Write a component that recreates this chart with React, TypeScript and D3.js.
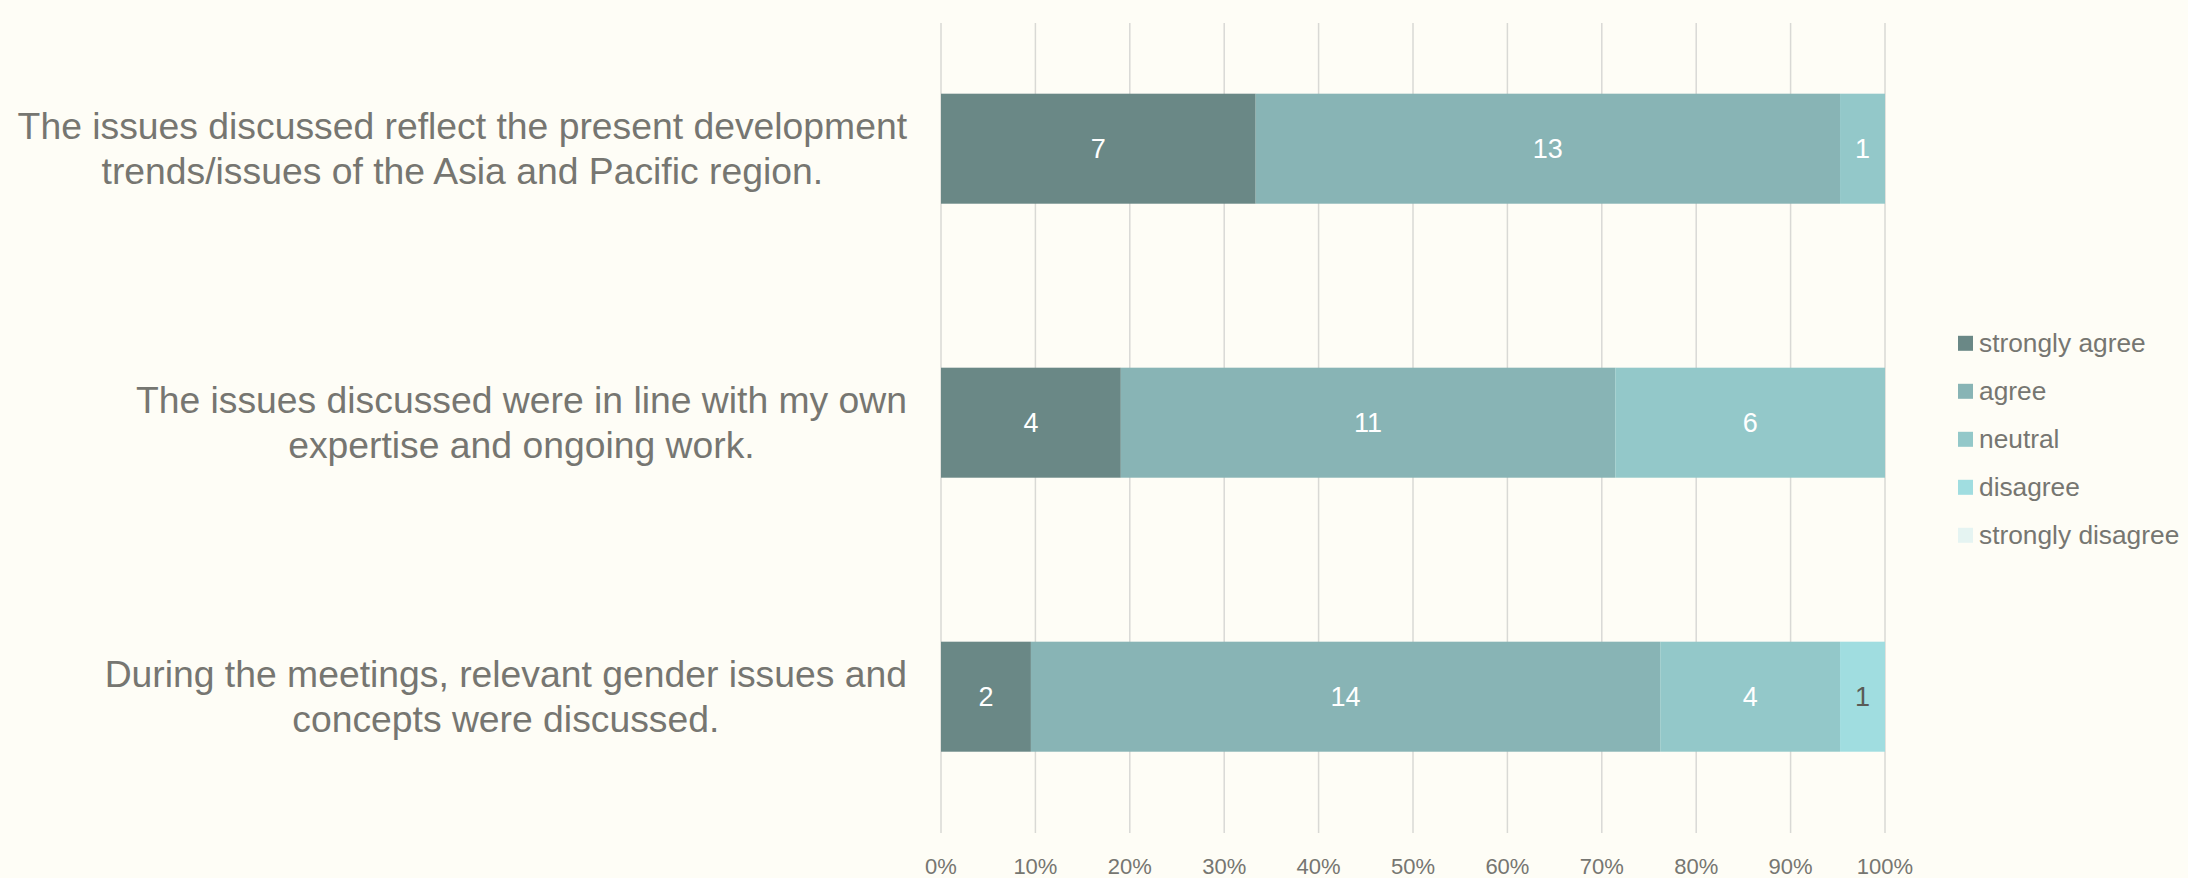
import React, { useEffect, useRef } from "react";
import * as d3 from "d3";

const categories = [
  "The issues discussed reflect the present development|trends/issues of the Asia and Pacific region.",
  "The issues discussed were in line with my own|expertise and ongoing work.",
  "During the meetings, relevant gender issues and|concepts were discussed.",
];
const seriesNames = ["strongly agree", "agree", "neutral", "disagree", "strongly disagree"];
const stronglyAgree = [7, 4, 2];
const agree = [13, 11, 14];
const neutral = [1, 6, 4];
const disagree = [0, 0, 1];
const stronglyDisagree = [0, 0, 0];
const seriesColors = ["#6a8886", "#88b4b5", "#93c8c9", "#a0dde0", "#e5f4f2"];
const labelColors = ["#ffffff", "#ffffff", "#ffffff", "#5a5a56", "#5a5a56"];
const tickValues = [0, 0.1, 0.2, 0.3, 0.4, 0.5, 0.6, 0.7, 0.8, 0.9, 1.0];

const W = 2188;
const H = 878;
const FONT = "'Liberation Sans', Arial, sans-serif";
const TEXT = "#767671";

export default function App() {
  const ref = useRef<SVGSVGElement>(null);
  useEffect(() => {
    const svg = d3.select(ref.current);
    svg.selectAll("*").remove();
    svg.append("rect").attr("width", W).attr("height", H).attr("fill", "#fefdf6");

    const allSeries = [stronglyAgree, agree, neutral, disagree, stronglyDisagree];
    const rows = categories.map((c, i) => {
      const r: any = { cat: c };
      const total = d3.sum(allSeries, (s) => s[i]);
      seriesNames.forEach((n, k) => {
        r[n] = allSeries[k][i] / total;
        r[n + "_v"] = allSeries[k][i];
      });
      return r;
    });

    const x = d3.scaleLinear().domain([0, 1]).range([941, 1885]);
    const y = d3
      .scaleBand()
      .domain(categories)
      .range([11.7, 833.7])
      .paddingInner(0.5985)
      .paddingOuter(0.5985 / 2);

    // gridlines
    svg
      .append("g")
      .selectAll("line")
      .data(tickValues)
      .join("line")
      .attr("x1", (d) => x(d))
      .attr("x2", (d) => x(d))
      .attr("y1", 23)
      .attr("y2", 833)
      .attr("stroke", "#d9d9d5")
      .attr("stroke-width", 1.5);

    // tick labels
    svg
      .append("g")
      .selectAll("text")
      .data(tickValues)
      .join("text")
      .attr("x", (d) => x(d))
      .attr("y", 866)
      .attr("text-anchor", "middle")
      .attr("dominant-baseline", "central")
      .attr("font-family", FONT)
      .attr("font-size", 22)
      .attr("fill", TEXT)
      .text((d) => d3.format(".0%")(d));

    const stack = d3.stack<any>().keys(seriesNames);
    const stacked = stack(rows);

    stacked.forEach((layer, k) => {
      const g = svg.append("g");
      g.selectAll("rect")
        .data(layer)
        .join("rect")
        .attr("x", (d) => x(d[0]))
        .attr("width", (d) => x(d[1]) - x(d[0]))
        .attr("y", (d) => y(d.data.cat)!)
        .attr("height", y.bandwidth())
        .attr("fill", seriesColors[k]);
      g.selectAll("text")
        .data(layer.filter((d) => d.data[seriesNames[k] + "_v"] > 0))
        .join("text")
        .attr("x", (d) => (x(d[0]) + x(d[1])) / 2)
        .attr("y", (d) => y(d.data.cat)! + y.bandwidth() / 2)
        .attr("text-anchor", "middle")
        .attr("dominant-baseline", "central")
        .attr("font-family", FONT)
        .attr("font-size", 27)
        .attr("fill", labelColors[k])
        .text((d) => d.data[seriesNames[k] + "_v"]);
    });

    // category labels
    const RIGHT = 907;
    categories.forEach((c) => {
      const lines = c.split("|");
      const cy = y(c)! + y.bandwidth() / 2;
      const lh = 45;
      const texts = lines.map((ln, i) =>
        svg
          .append("text")
          .attr("y", cy + (i - (lines.length - 1) / 2) * lh)
          .attr("text-anchor", "middle")
          .attr("dominant-baseline", "central")
          .attr("font-family", FONT)
          .attr("font-size", 37.3)
          .attr("fill", TEXT)
          .text(ln)
      );
      const maxW = d3.max(texts, (t) => (t.node() as SVGTextElement).getComputedTextLength()) || 0;
      texts.forEach((t) => t.attr("x", RIGHT - maxW / 2));
    });

    // legend
    const lg = svg.append("g");
    seriesNames.forEach((n, k) => {
      const cy = 343.3 + k * 48;
      lg.append("rect")
        .attr("x", 1958)
        .attr("y", cy - 7.5)
        .attr("width", 15)
        .attr("height", 15)
        .attr("fill", seriesColors[k]);
      lg.append("text")
        .attr("x", 1979)
        .attr("y", cy)
        .attr("dominant-baseline", "central")
        .attr("font-family", FONT)
        .attr("font-size", 26.3)
        .attr("fill", TEXT)
        .text(n);
    });
  }, []);

  return (
    <svg
      ref={ref}
      width={W}
      height={H}
      style={{ position: "absolute", left: 0, top: 0, display: "block" }}
    />
  );
}
